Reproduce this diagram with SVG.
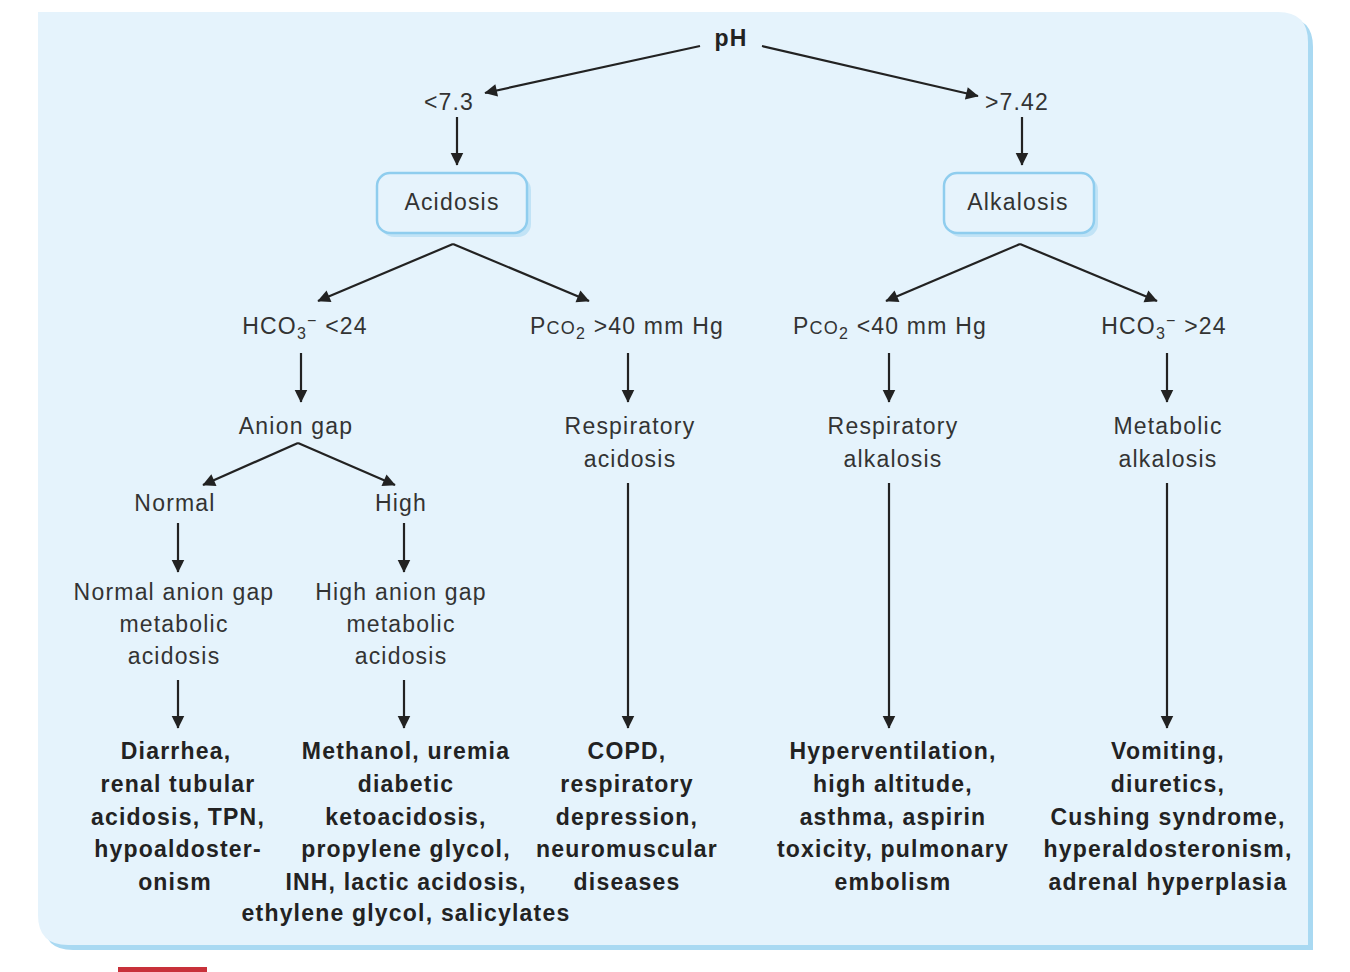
<svg xmlns="http://www.w3.org/2000/svg" width="1350" height="972" viewBox="0 0 1350 972">
<defs>
<style>
text{font-family:"Liberation Sans",Arial,sans-serif;font-size:23px;letter-spacing:1.2px;fill:#333;text-anchor:middle}
.b{font-weight:bold;fill:#222}
.c line{stroke:#222;stroke-width:2.2;marker-end:url(#ah)}
.box{fill:#e6f3fc;stroke:#8fcdee;stroke-width:2.5}
</style>
<marker id="ah" viewBox="0 0 10 10" refX="9" refY="5" markerWidth="7" markerHeight="7" orient="auto" markerUnits="userSpaceOnUse" overflow="visible">
<path d="M0,0 L10,5 L0,10 Z" fill="#222" transform="scale(1.8) translate(-4.5,-2.2)"/>
</marker>
</defs>
<rect width="1350" height="972" fill="#fff"/>
<path d="M43,17 H1283 Q1313,17 1313,47 V950 H73 Q43,950 43,920 Z" fill="#a9d9f2"/>
<path d="M38,12 H1278 Q1308,12 1308,42 V945 H68 Q38,945 38,915 Z" fill="#e5f3fc"/>
<rect x="118" y="967" width="89" height="5" fill="#c8313a"/>
<g class="c">
<line x1="700" y1="46" x2="485" y2="93"/>
<line x1="762" y1="46" x2="978" y2="96"/>
<line x1="457" y1="117" x2="457" y2="165"/>
<line x1="1022" y1="117" x2="1022" y2="165"/>
<line x1="453" y1="244" x2="318" y2="301"/>
<line x1="453" y1="244" x2="589" y2="301"/>
<line x1="1020" y1="244" x2="886" y2="301"/>
<line x1="1020" y1="244" x2="1157" y2="301"/>
<line x1="301" y1="353" x2="301" y2="402"/>
<line x1="628" y1="353" x2="628" y2="402"/>
<line x1="889" y1="353" x2="889" y2="402"/>
<line x1="1167" y1="353" x2="1167" y2="402"/>
<line x1="298" y1="443" x2="203" y2="485"/>
<line x1="298" y1="443" x2="395" y2="485"/>
<line x1="178" y1="523" x2="178" y2="572"/>
<line x1="404" y1="523" x2="404" y2="572"/>
<line x1="178" y1="680" x2="178" y2="728"/>
<line x1="404" y1="680" x2="404" y2="728"/>
<line x1="628" y1="483" x2="628" y2="728"/>
<line x1="889" y1="483" x2="889" y2="728"/>
<line x1="1167" y1="483" x2="1167" y2="728"/>
</g>
<g id="ph"><text class="b" x="731" y="46">pH</text></g>
<g id="lt"><text x="449" y="110">&lt;7.3</text></g>
<g id="gt"><text x="1017" y="110">&gt;7.42</text></g>
<g id="acidosis"><rect x="381" y="177" width="150" height="60" rx="13" fill="#a9d9f2" opacity="0.6"/><rect class="box" x="377" y="173" width="150" height="60" rx="13"/><text x="452" y="210">Acidosis</text></g>
<g id="alkalosis"><rect x="948" y="177" width="150" height="60" rx="13" fill="#a9d9f2" opacity="0.6"/><rect class="box" x="944" y="173" width="150" height="60" rx="13"/><text x="1018" y="210">Alkalosis</text></g>
<g id="hco3lo"><text x="305" y="334">HCO<tspan font-size="16" dy="5">3</tspan><tspan font-size="16" dy="-13">−</tspan><tspan dy="8"> &lt;24</tspan></text></g>
<g id="pco2hi"><text x="627" y="334">P<tspan font-size="18">CO</tspan><tspan font-size="16" dy="5">2</tspan><tspan dy="-5"> &gt;40 mm Hg</tspan></text></g>
<g id="pco2lo"><text x="890" y="334">P<tspan font-size="18">CO</tspan><tspan font-size="16" dy="5">2</tspan><tspan dy="-5"> &lt;40 mm Hg</tspan></text></g>
<g id="hco3hi"><text x="1164" y="334">HCO<tspan font-size="16" dy="5">3</tspan><tspan font-size="16" dy="-13">−</tspan><tspan dy="8"> &gt;24</tspan></text></g>
<g id="aniongap"><text x="296" y="434">Anion gap</text></g>
<g id="respacid"><text x="630" y="434">Respiratory</text><text x="630" y="467">acidosis</text></g>
<g id="respalk"><text x="893" y="434">Respiratory</text><text x="893" y="467">alkalosis</text></g>
<g id="metalk"><text x="1168" y="434">Metabolic</text><text x="1168" y="467">alkalosis</text></g>
<g id="normal"><text x="175" y="511">Normal</text></g>
<g id="high"><text x="401" y="511">High</text></g>
<g id="nagma"><text x="174" y="600">Normal anion gap</text><text x="174" y="632">metabolic</text><text x="174" y="664">acidosis</text></g>
<g id="hagma"><text x="401" y="600">High anion gap</text><text x="401" y="632">metabolic</text><text x="401" y="664">acidosis</text></g>
<g id="c1"><text class="b" x="176" y="759">Diarrhea,</text><text class="b" x="178" y="792">renal tubular</text><text class="b" x="178" y="825">acidosis, TPN,</text><text class="b" x="178" y="857">hypoaldoster-</text><text class="b" x="175" y="890">onism</text></g>
<g id="c2"><text class="b" x="406" y="759">Methanol,  uremia</text><text class="b" x="406" y="792">diabetic</text><text class="b" x="406" y="825">ketoacidosis,</text><text class="b" x="406" y="857">propylene glycol,</text><text class="b" x="406" y="890">INH, lactic acidosis,</text><text class="b" x="406" y="921">ethylene glycol, salicylates</text></g>
<g id="c3"><text class="b" x="627" y="759">COPD,</text><text class="b" x="627" y="792">respiratory</text><text class="b" x="627" y="825">depression,</text><text class="b" x="627" y="857">neuromuscular</text><text class="b" x="627" y="890">diseases</text></g>
<g id="c4"><text class="b" x="893" y="759">Hyperventilation,</text><text class="b" x="893" y="792">high altitude,</text><text class="b" x="893" y="825">asthma, aspirin</text><text class="b" x="893" y="857">toxicity, pulmonary</text><text class="b" x="893" y="890">embolism</text></g>
<g id="c5"><text class="b" x="1168" y="759">Vomiting,</text><text class="b" x="1168" y="792">diuretics,</text><text class="b" x="1168" y="825">Cushing syndrome,</text><text class="b" x="1168" y="857">hyperaldosteronism,</text><text class="b" x="1168" y="890">adrenal hyperplasia</text></g>
</svg>
